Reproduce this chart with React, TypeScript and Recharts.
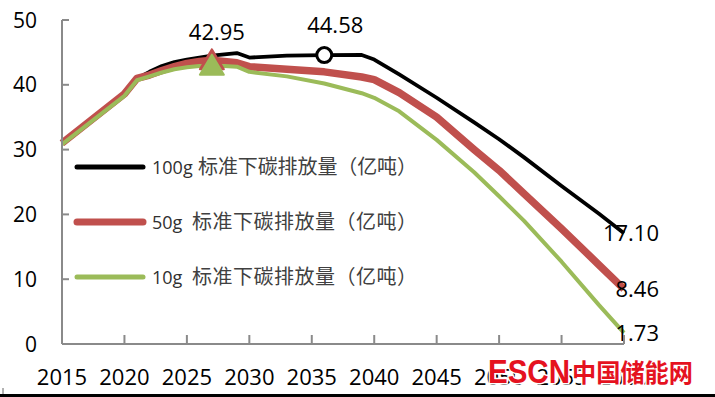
import React from 'react';
import { LineChart, Line, XAxis, YAxis, Legend } from 'recharts';

const years = [2015, 2020, 2021, 2022, 2023, 2024, 2025, 2026, 2027, 2028, 2029, 2030, 2033, 2036, 2039, 2040, 2042, 2045, 2048, 2050, 2052, 2055, 2058, 2060];
const s100 = [31.0, 38.5, 41.0, 42.0, 42.9, 43.5, 43.9, 44.2, 44.5, 44.7, 44.9, 44.2, 44.5, 44.58, 44.6, 43.9, 41.6, 38.0, 34.2, 31.6, 28.8, 24.4, 20.1, 17.10];
const s50 = [31.0, 38.6, 41.0, 41.5, 42.2, 42.8, 43.3, 43.6, 43.8, 43.6, 43.4, 42.8, 42.4, 42.0, 41.2, 40.8, 38.8, 35.0, 30.0, 26.8, 23.2, 17.8, 12.2, 8.46];
const s10 = [30.8, 38.3, 40.7, 41.3, 41.9, 42.4, 42.7, 42.9, 42.95, 42.9, 42.8, 42.0, 41.3, 40.2, 38.7, 38.0, 35.9, 31.5, 26.5, 22.8, 19.0, 12.7, 6.0, 1.73];

const xTicks = [2015, 2020, 2025, 2030, 2035, 2040, 2045, 2050, 2055, 2060];
const yTicks = [0, 10, 20, 30, 40, 50];

const seriesPrefix = ['100g', '50g', '10g'];
const seriesText = '标准下碳排放量（亿吨）';
const seriesColors = ['#000000', '#c0504d', '#9bbb59'];
const seriesWidths = [5, 7, 5];

const data = years.map((y, i) => ({ year: y, a: s100[i], b: s50[i], c: s10[i] }));

const NUM_FONT = "'Open Sans', 'Liberation Sans', sans-serif";
const CJK_FONT = "'Noto Sans CJK SC', sans-serif";
const AXIS = '#8a8a8a';

const XTick = (props: any) => {
  const { x, y, payload } = props;
  return (
    <g>
      <line x1={x} y1={y} x2={x} y2={y - 9} stroke={AXIS} strokeWidth={2} />
      <text x={x} y={y + 41} textAnchor="middle" fontSize={22} fontFamily={NUM_FONT} fill="#000">
        {payload.value}
      </text>
    </g>
  );
};

const YTick = (props: any) => {
  const { x, y, payload } = props;
  return (
    <g>
      {payload.value !== 0 && <line x1={x} y1={y} x2={x + 7} y2={y} stroke={AXIS} strokeWidth={2} />}
      <text x={x - 25} y={y + 7.5} textAnchor="end" fontSize={21} fontFamily={NUM_FONT} fill="#000">
        {payload.value}
      </text>
    </g>
  );
};

const lastIdx = years.length - 1;
const peakIdx = years.indexOf(2027);
const circIdx = years.indexOf(2036);

const endLabel = (cx: number, cy: number, v: number) => (
  <text x={cx + 35} y={cy + 8} textAnchor="end" fontSize={22} fontFamily={NUM_FONT} fill="#000">
    {v.toFixed(2)}
  </text>
);

const dotA = (p: any) => {
  const { cx, cy, index, payload } = p;
  if (index === circIdx) {
    return (
      <g key={`a${index}`}>
        <circle cx={cx} cy={cy} r={7.5} fill="#fff" stroke="#000" strokeWidth={3} />
        <text x={cx + 11} y={cy - 22} textAnchor="middle" fontSize={22} fontFamily={NUM_FONT} fill="#000">
          {payload.a.toFixed(2)}
        </text>
      </g>
    );
  }
  if (index === lastIdx) return <g key={`a${index}`}>{endLabel(cx, cy, payload.a)}</g>;
  return <g key={`a${index}`} />;
};

const dotB = (p: any) => {
  const { cx, cy, index, payload } = p;
  if (index === peakIdx) {
    return (
      <g key={`b${index}`}>
        <polygon points={`${cx},${cy - 11} ${cx - 12},${cy + 9} ${cx + 12},${cy + 9}`} fill="#c0504d" stroke="#c0504d" strokeWidth={2} strokeLinejoin="round" />
      </g>
    );
  }
  if (index === lastIdx) return <g key={`b${index}`}>{endLabel(cx, cy, payload.b)}</g>;
  return <g key={`b${index}`} />;
};

const dotC = (p: any) => {
  const { cx, cy, index, payload } = p;
  if (index === peakIdx) {
    return (
      <g key={`c${index}`}>
        <polygon points={`${cx},${cy - 11} ${cx - 12},${cy + 9} ${cx + 12},${cy + 9}`} fill="#9bbb59" stroke="#9bbb59" strokeWidth={2} strokeLinejoin="round" />
        <text x={cx + 5} y={cy - 26} textAnchor="middle" fontSize={22} fontFamily={NUM_FONT} fill="#000">
          {payload.c.toFixed(2)}
        </text>
      </g>
    );
  }
  if (index === lastIdx) return <g key={`c${index}`}>{endLabel(cx, cy, payload.c)}</g>;
  return <g key={`c${index}`} />;
};

const renderLegend = () => (
  <svg width={360} height={140} style={{ display: 'block' }}>
    {seriesPrefix.map((n, i) => {
      const cjkX = i === 0 ? 130 : 124;
      return (
        <g key={n}>
          <line x1={9} y1={17 + i * 55} x2={75} y2={17 + i * 55} stroke={seriesColors[i]} strokeWidth={seriesWidths[i]} strokeLinecap="round" />
          <text x={84} y={17 + i * 55 + 7} fontSize={18} fontFamily={NUM_FONT} fill="#303030">
            {n}
          </text>
          <text x={cjkX} y={17 + i * 55 + 7} fontSize={20} fontFamily={CJK_FONT} fill="#404040" textLength={349 - cjkX} lengthAdjust="spacing">
            {seriesText}
          </text>
        </g>
      );
    })}
  </svg>
);

export default function App() {
  return (
    <div style={{ position: 'absolute', left: 0, top: 0, width: 715, height: 397, background: '#fff', overflow: 'hidden' }}>
      <LineChart width={715} height={397} data={data} margin={{ top: 20, right: 91, bottom: 0, left: 0 }}>
        <XAxis
          dataKey="year"
          type="number"
          domain={[2015, 2060]}
          ticks={xTicks}
          interval={0}
          height={53}
          tickSize={0}
          tickMargin={0}
          tickLine={false}
          axisLine={{ stroke: AXIS, strokeWidth: 2 }}
          tick={<XTick />}
        />
        <YAxis
          type="number"
          domain={[0, 50]}
          ticks={yTicks}
          interval={0}
          width={62}
          tickSize={0}
          tickMargin={0}
          tickLine={false}
          axisLine={{ stroke: AXIS, strokeWidth: 2 }}
          tick={<YTick />}
        />
        <Legend
          layout="horizontal"
          verticalAlign="middle"
          align="center"
          content={renderLegend}
          wrapperStyle={{ position: 'absolute', left: 68, top: 150, width: 360, height: 140 }}
        />
        <Line dataKey="a" name="100g 标准下碳排放量（亿吨）" type="linear" stroke="#000000" strokeWidth={3.8} strokeLinejoin="round" dot={dotA} activeDot={false} isAnimationActive={false} />
        <Line dataKey="b" name="50g 标准下碳排放量（亿吨）" type="linear" stroke="#c0504d" strokeWidth={7.5} strokeLinejoin="round" dot={dotB} activeDot={false} isAnimationActive={false} />
        <Line dataKey="c" name="10g 标准下碳排放量（亿吨）" type="linear" stroke="#9bbb59" strokeWidth={4} strokeLinejoin="round" dot={dotC} activeDot={false} isAnimationActive={false} />
      </LineChart>
      <svg width={715} height={397} style={{ position: 'absolute', left: 0, top: 0, pointerEvents: 'none' }}>
        <text x={488} y={383} fontSize={34} fontWeight="bold" fontFamily="'Liberation Sans', sans-serif" fill="#e5121f" stroke="#fff" strokeWidth={3} paintOrder="stroke" textLength={82} lengthAdjust="spacingAndGlyphs">ESCN</text>
        <text x={572} y={382} fontSize={25} fontWeight="bold" fontFamily="'Noto Sans CJK SC', sans-serif" fill="#e5121f" stroke="#fff" strokeWidth={3} paintOrder="stroke" textLength={121} lengthAdjust="spacingAndGlyphs">中国储能网</text>
        <rect x={0} y={394} width={715} height={3} fill="#000" />
        <line x1={3} y1={388} x2={3} y2={394} stroke="#666" strokeWidth={1} />
      </svg>
    </div>
  );
}
